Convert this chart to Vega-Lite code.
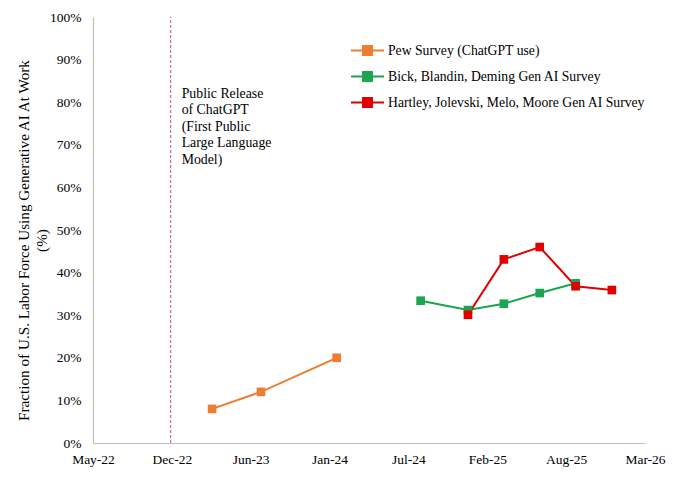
{
  "$schema": "https://vega.github.io/schema/vega-lite/v6.json",
  "width": 552,
  "height": 426,
  "autosize": {"type": "none"},
  "padding": {"left": 93, "top": 17, "right": 35, "bottom": 61},
  "background": "white",
  "config": {
    "view": {"stroke": null},
    "font": "Liberation Serif",
    "axis": {"grid": false, "ticks": false, "domainColor": "#bfbfbf", "domainWidth": 1.2, "labelFont": "Liberation Serif", "labelFontSize": 13.5, "labelColor": "#000000", "titleFont": "Liberation Serif", "titleColor": "#000000", "titleFontWeight": "normal", "labelFlush": false, "labelOverlap": false},
    "legend": {"labelFont": "Liberation Serif", "labelFontSize": 13.7, "labelColor": "#000000", "labelLimit": 400}
  },
  "datasets": {
    "surveys": [
      {"series": "Pew Survey (ChatGPT use)", "date": "2023-03-15", "value": 8},
      {"series": "Pew Survey (ChatGPT use)", "date": "2023-07-17", "value": 12},
      {"series": "Pew Survey (ChatGPT use)", "date": "2024-01-25", "value": 20},
      {"series": "Bick, Blandin, Deming Gen AI Survey", "date": "2024-08-25", "value": 33.4},
      {"series": "Bick, Blandin, Deming Gen AI Survey", "date": "2024-12-23", "value": 31.2},
      {"series": "Bick, Blandin, Deming Gen AI Survey", "date": "2025-03-24", "value": 32.7},
      {"series": "Bick, Blandin, Deming Gen AI Survey", "date": "2025-06-23", "value": 35.2},
      {"series": "Bick, Blandin, Deming Gen AI Survey", "date": "2025-09-22", "value": 37.5},
      {"series": "Hartley, Jolevski, Melo, Moore Gen AI Survey", "date": "2024-12-23", "value": 30.1},
      {"series": "Hartley, Jolevski, Melo, Moore Gen AI Survey", "date": "2025-03-24", "value": 43.1},
      {"series": "Hartley, Jolevski, Melo, Moore Gen AI Survey", "date": "2025-06-23", "value": 46.0},
      {"series": "Hartley, Jolevski, Melo, Moore Gen AI Survey", "date": "2025-09-22", "value": 36.8},
      {"series": "Hartley, Jolevski, Melo, Moore Gen AI Survey", "date": "2025-12-23", "value": 35.9}
    ],
    "events": [
      {"event": "Public Release of ChatGPT", "date": "2022-11-30", "label": ["Public Release", "of ChatGPT", "(First Public", "Large Language", "Model)"]}
    ]
  },
  "layer": [
    {
      "data": {"name": "events"},
      "mark": {"type": "rule", "color": "#C8505A", "strokeDash": [3, 2], "strokeWidth": 1},
      "encoding": {
        "x": {"field": "date", "type": "temporal", "scale": {"domain": [{"year": 2022, "month": 5, "date": 17}, {"year": 2026, "month": 3, "date": 17}]}},
        "y": {"datum": 0, "type": "quantitative", "scale": {"domain": [0, 100], "nice": false}},
        "y2": {"datum": 100}
      }
    },
    {
      "data": {"name": "events"},
      "mark": {"type": "text", "align": "left", "baseline": "top", "dx": 11, "fontSize": 13.8, "lineHeight": 16.5, "font": "Liberation Serif", "color": "#000000"},
      "encoding": {
        "x": {"field": "date", "type": "temporal"},
        "y": {"datum": 83.6, "type": "quantitative"},
        "text": {"field": "label"}
      }
    },
    {
      "data": {"name": "surveys"},
      "encoding": {
        "x": {
          "field": "date", "type": "temporal",
          "axis": {
            "title": null,
            "format": "%b-%y",
            "labelPadding": 9,
            "values": [
              {"year": 2022, "month": 5, "date": 17},
              {"year": 2022, "month": 12, "date": 3},
              {"year": 2023, "month": 6, "date": 21},
              {"year": 2024, "month": 1, "date": 7},
              {"year": 2024, "month": 7, "date": 25},
              {"year": 2025, "month": 2, "date": 10},
              {"year": 2025, "month": 8, "date": 29},
              {"year": 2026, "month": 3, "date": 17}
            ]
          }
        },
        "y": {
          "field": "value", "type": "quantitative",
          "axis": {
            "values": [0, 10, 20, 30, 40, 50, 60, 70, 80, 90, 100],
            "labelExpr": "datum.value + '%'",
            "labelPadding": 12,
            "title": ["Fraction of U.S. Labor Force Using Generative AI At Work", "(%)"],
            "titleFontSize": 15.2,
            "titlePadding": 0,
            "titleLineHeight": 18,
            "titleY": 223
          }
        },
        "color": {
          "field": "series", "type": "nominal",
          "scale": {
            "domain": ["Pew Survey (ChatGPT use)", "Bick, Blandin, Deming Gen AI Survey", "Hartley, Jolevski, Melo, Moore Gen AI Survey"],
            "range": ["#ED7D31", "#1DA451", "#E00000"]
          },
          "legend": {
            "title": null,
            "orient": "none",
            "legendX": 257,
            "legendY": 16,
            "rowPadding": -11,
            "labelOffset": 3,
            "symbolType": "M-1,0H1M-0.27,-0.27H0.27V0.27H-0.27Z",
            "symbolSize": 1089,
            "symbolStrokeWidth": 2,
            "encode": {
              "symbols": {"update": {"fill": {"scale": "color", "field": "value"}, "stroke": {"scale": "color", "field": "value"}, "opacity": {"value": 1}}}
            }
          }
        }
      },
      "layer": [
        {
          "mark": {"type": "line", "strokeWidth": 2},
          "encoding": {"detail": {"field": "series"}}
        },
        {
          "mark": {"type": "point", "shape": "square", "filled": true, "size": 75, "opacity": 1}
        }
      ]
    }
  ]
}
